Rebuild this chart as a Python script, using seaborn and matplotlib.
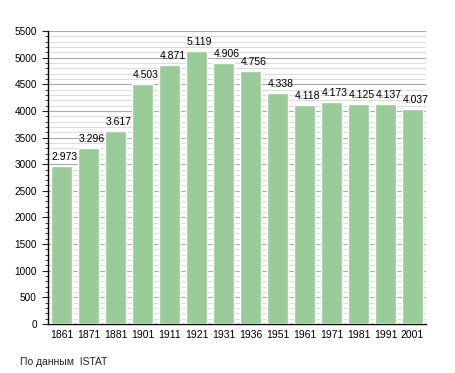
import matplotlib
matplotlib.use("Agg")
import matplotlib.pyplot as plt
from matplotlib.ticker import MultipleLocator
from matplotlib.transforms import offset_copy
import seaborn as sns
import pandas as pd

# data
years = ["1861", "1871", "1881", "1901", "1911", "1921", "1931",
         "1936", "1951", "1961", "1971", "1981", "1991", "2001"]
population = [2973, 3296, 3617, 4503, 4871, 5119, 4906,
              4756, 4338, 4118, 4173, 4125, 4137, 4037]
value_labels = ["2.973", "3.296", "3.617", "4.503", "4.871", "5.119", "4.906",
                "4.756", "4.338", "4.118", "4.173", "4.125", "4.137", "4.037"]
source_note = "По данным  ISTAT"

df = pd.DataFrame({"year": years, "pop": population})

sns.set_style("white")
plt.rcParams["font.family"] = ["Liberation Sans", "DejaVu Sans"]

fig = plt.figure(figsize=(4.55, 3.73), dpi=100)
ax = fig.add_axes([48 / 455, 49 / 373, 378 / 455, 293 / 373])

sns.barplot(data=df, x="year", y="pop", color="#99cc99", saturation=1,
            width=0.78, ax=ax, zorder=3)

# value labels, nudged a few pixels right / up like the original
lab_tr = offset_copy(ax.transData, fig=fig, x=3, y=4, units="dots")
for i, (v, lab) in enumerate(zip(population, value_labels)):
    ax.text(i, v, lab, ha="center", va="bottom", fontsize=7.5,
            color="black", transform=lab_tr, zorder=4)

ax.set_xlim(-0.5, 13.5)
ax.set_ylim(0, 5500)
ax.yaxis.set_major_locator(MultipleLocator(500))
ax.yaxis.set_minor_locator(MultipleLocator(100))
ax.grid(axis="y", which="major", color="#aaaaaa", linewidth=0.8, zorder=0)
ax.grid(axis="y", which="minor", color="#dddddd", linewidth=0.8, zorder=0)
ax.set_axisbelow(True)

for s in ["top", "right"]:
    ax.spines[s].set_visible(False)
for s in ["left", "bottom"]:
    ax.spines[s].set_color("black")
    ax.spines[s].set_linewidth(1)

ax.tick_params(axis="y", which="major", left=True, length=4, width=0.8,
               labelsize=7.2, pad=4, labelcolor="black")
ax.tick_params(axis="y", which="minor", left=True, length=2, width=0.6)
ax.tick_params(axis="x", bottom=False, labelsize=7.5, pad=1,
               labelcolor="black")
ax.set_xlabel("")
ax.set_ylabel("")

fig.text(20 / 455, 1 - 362 / 373, source_note, fontsize=7.5, va="center",
         ha="left")

fig.savefig("out.png", dpi=100)
